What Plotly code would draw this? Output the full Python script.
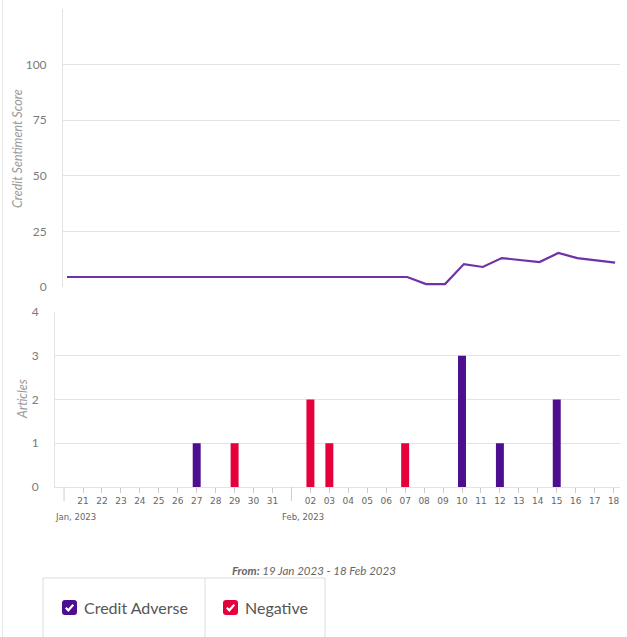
import plotly.graph_objects as go
from datetime import datetime, timedelta

W, H = 627, 637

# ---------------- data ----------------
score_dates = ["2023-01-20", "2023-01-21", "2023-01-22", "2023-01-23", "2023-01-24",
               "2023-01-25", "2023-01-26", "2023-01-27", "2023-01-28", "2023-01-29",
               "2023-01-30", "2023-01-31", "2023-02-01", "2023-02-02", "2023-02-03",
               "2023-02-04", "2023-02-05", "2023-02-06", "2023-02-07", "2023-02-08",
               "2023-02-09", "2023-02-10", "2023-02-11", "2023-02-12", "2023-02-13",
               "2023-02-14", "2023-02-15", "2023-02-16", "2023-02-17", "2023-02-18"]
score_values = [4.5, 4.5, 4.5, 4.5, 4.5, 4.5, 4.5, 4.5, 4.5, 4.5,
                4.5, 4.5, 4.5, 4.5, 4.5, 4.5, 4.5, 4.5, 4.5, 1.3,
                1.3, 10.3, 9.0, 13.0, 12.1, 11.2, 15.3, 13.0, 12.0, 11.0]

adverse_dates = ["2023-01-27", "2023-02-10", "2023-02-12", "2023-02-15"]
adverse_counts = [1, 3, 1, 2]
negative_dates = ["2023-01-29", "2023-02-02", "2023-02-03", "2023-02-07"]
negative_counts = [1, 2, 1, 1]

day_ticks = ["2023-01-21", "2023-01-22", "2023-01-23", "2023-01-24", "2023-01-25",
             "2023-01-26", "2023-01-27", "2023-01-28", "2023-01-29", "2023-01-30",
             "2023-01-31", "2023-02-02", "2023-02-03", "2023-02-04", "2023-02-05",
             "2023-02-06", "2023-02-07", "2023-02-08", "2023-02-09", "2023-02-10",
             "2023-02-11", "2023-02-12", "2023-02-13", "2023-02-14", "2023-02-15",
             "2023-02-16", "2023-02-17", "2023-02-18"]
day_labels = ["21", "22", "23", "24", "25", "26", "27", "28", "29", "30", "31",
              "02", "03", "04", "05", "06", "07", "08", "09", "10", "11", "12",
              "13", "14", "15", "16", "17", "18"]
month_ticks = ["2023-01-20", "2023-02-01"]
month_labels = ["Jan, 2023", "Feb, 2023"]

score_ticks = [0, 25, 50, 75, 100, 125]
score_ticktext = ["0", "25", "50", "75", "100", ""]
article_ticks = [0, 1, 2, 3, 4]

series_names = ["Credit Adverse", "Negative"]
date_range_text = "<b>From:</b> 19 Jan 2023 - 18 Feb 2023"

# ---------------- style ----------------
LINE_C = "#7030a8"
ADV_C = "#4d0f8f"
NEG_C = "#e6003b"
GRID_C = "#e4e4e4"
TXT_C = "#7a7a7a"


def px(x):
    return x / W


def py(y):
    return 1 - y / H


def dt(s):
    return datetime.strptime(s, "%Y-%m-%d")


# pixel <-> date calibration (about 18.9 px per day)
top_range = [dt("2023-01-20") - timedelta(days=4 / 18.9), dt("2023-01-20") + timedelta(days=553 / 18.9)]
bot_range = [dt("2023-02-10") - timedelta(days=407 / 18.95), dt("2023-02-10") + timedelta(days=158 / 18.95)]

fig = go.Figure()

fig.add_trace(go.Scatter(x=score_dates, y=score_values, mode="lines",
                         line=dict(color=LINE_C, width=2.2),
                         xaxis="x", yaxis="y", showlegend=False))

bar_w = 0.42 * 86400000
fig.add_trace(go.Bar(x=adverse_dates, y=adverse_counts, name=series_names[0],
                     marker=dict(color=ADV_C, line=dict(width=0)), width=bar_w,
                     xaxis="x2", yaxis="y2", showlegend=False))
fig.add_trace(go.Bar(x=negative_dates, y=negative_counts, name=series_names[1],
                     marker=dict(color=NEG_C, line=dict(width=0)), width=bar_w,
                     xaxis="x2", yaxis="y2", showlegend=False))

fig.update_layout(
    width=W, height=H,
    autosize=False,
    margin=dict(l=0, r=0, t=0, b=0, pad=0),
    paper_bgcolor="white", plot_bgcolor="white",
    barmode="overlay",
    font=dict(family="Lato", color=TXT_C),
    xaxis=dict(domain=[px(63), px(620)], range=top_range, type="date",
               showticklabels=False, showgrid=False, zeroline=False, showline=False,
               automargin=False, anchor="y"),
    yaxis=dict(domain=[py(287), py(9)], range=[0, 125], tickvals=score_ticks,
               ticktext=score_ticktext, showgrid=True, gridcolor=GRID_C, gridwidth=1,
               zeroline=False, showline=True, linecolor=GRID_C, linewidth=1,
               ticks="", ticklabelstandoff=13, automargin=False,
               tickfont=dict(family="Lato", size=12, color=TXT_C), anchor="x"),
    xaxis2=dict(domain=[px(55), px(620)], range=bot_range, type="date",
                tickvals=day_ticks, ticktext=day_labels,
                tickfont=dict(family="DejaVu Sans", size=9, color="#666666"),
                ticks="outside", ticklen=5, tickcolor="#cccccc", tickwidth=1,
                showgrid=False, zeroline=False, showline=True, linecolor=GRID_C,
                automargin=False, anchor="y2"),
    yaxis2=dict(domain=[py(487), py(312)], range=[0, 4], tickvals=article_ticks,
                showgrid=True, gridcolor=GRID_C, gridwidth=1, zeroline=False,
                showline=True, linecolor=GRID_C, linewidth=1, ticks="",
                ticklabelstandoff=13, automargin=False,
                tickfont=dict(family="Lato", size=12, color=TXT_C), anchor="x2"),
)

shapes = []
annotations = []

# page edge line on the left
shapes.append(dict(type="line", xref="paper", yref="paper", x0=px(2.5), x1=px(2.5),
                   y0=0, y1=1, line=dict(color="#e8e8e8", width=1)))

# month boundary ticks
for m in month_ticks:
    shapes.append(dict(type="line", xref="x2", yref="paper", x0=m, x1=m,
                       y0=py(487), y1=py(501), line=dict(color="#cccccc", width=1)))
for m, lab in zip(month_ticks, month_labels):
    annotations.append(dict(x=m, xref="x2", y=py(517), yref="paper", text=lab,
                            showarrow=False, xanchor="left", yanchor="middle", xshift=-11,
                            font=dict(family="DejaVu Sans", size=8.5, color="#666666")))

# axis titles
annotations.append(dict(x=px(17), y=py(149), xref="paper", yref="paper",
                        text="<i>Credit Sentiment Score</i>", textangle=-90, showarrow=False,
                        xanchor="center", yanchor="middle",
                        font=dict(family="Lato", size=12.5, color="#9a9a9a")))
annotations.append(dict(x=px(22), y=py(399), xref="paper", yref="paper",
                        text="<i>Articles</i>", textangle=-90, showarrow=False,
                        xanchor="center", yanchor="middle",
                        font=dict(family="Lato", size=12.5, color="#9a9a9a")))

# date range text
annotations.append(dict(x=px(314), y=py(570), xref="paper", yref="paper",
                        text="<i>" + date_range_text + "</i>", showarrow=False,
                        xanchor="center", yanchor="middle",
                        font=dict(family="Lato", size=11.5, color="#666666")))

# custom legend box
box_c = "#dcdcdc"
shapes.append(dict(type="line", xref="paper", yref="paper", x0=px(43), x1=px(325),
                   y0=py(578), y1=py(578), line=dict(color=box_c, width=1)))
for xv in (43, 205, 325):
    shapes.append(dict(type="line", xref="paper", yref="paper", x0=px(xv), x1=px(xv),
                       y0=py(578), y1=0, line=dict(color=box_c, width=1)))


def checkbox(x0, y0, size, color):
    r = 3
    x1, y1 = x0 + size, y0 + size
    path = (f"M {px(x0 + r)} {py(y0)} L {px(x1 - r)} {py(y0)} Q {px(x1)} {py(y0)} {px(x1)} {py(y0 + r)} "
            f"L {px(x1)} {py(y1 - r)} Q {px(x1)} {py(y1)} {px(x1 - r)} {py(y1)} "
            f"L {px(x0 + r)} {py(y1)} Q {px(x0)} {py(y1)} {px(x0)} {py(y1 - r)} "
            f"L {px(x0)} {py(y0 + r)} Q {px(x0)} {py(y0)} {px(x0 + r)} {py(y0)} Z")
    shapes.append(dict(type="path", xref="paper", yref="paper", path=path,
                       fillcolor=color, line=dict(color=color, width=0)))
    check = (f"M {px(x0 + 3.8)} {py(y0 + 7.8)} L {px(x0 + 6.3)} {py(y0 + 10.3)} "
             f"L {px(x0 + 11.3)} {py(y0 + 4.8)}")
    shapes.append(dict(type="path", xref="paper", yref="paper", path=check,
                       line=dict(color="white", width=2.2)))


checkbox(62, 600, 15, ADV_C)
checkbox(223, 600, 15, NEG_C)
annotations.append(dict(x=px(82), y=py(607.5), xref="paper", yref="paper",
                        text=series_names[0], showarrow=False, xanchor="left", yanchor="middle",
                        font=dict(family="Lato", size=16, color="#555555")))
annotations.append(dict(x=px(243), y=py(607.5), xref="paper", yref="paper",
                        text=series_names[1], showarrow=False, xanchor="left", yanchor="middle",
                        font=dict(family="Lato", size=16, color="#555555")))

fig.update_layout(shapes=shapes, annotations=annotations)

fig.write_html("out.html")
